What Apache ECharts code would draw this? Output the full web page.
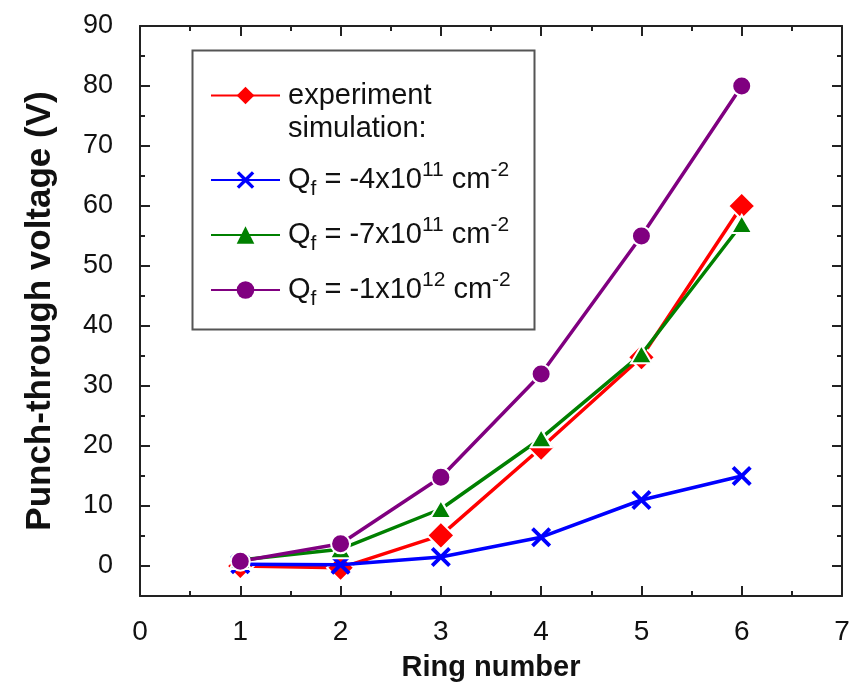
<!DOCTYPE html>
<html>
<head>
<meta charset="utf-8">
<script src="https://cdn.jsdelivr.net/npm/echarts@6/dist/echarts.min.js"></script>
<style>html,body{margin:0;padding:0;background:#fff}#c{width:851px;height:688px}</style>
</head>
<body>
<div id="c"></div>
<script>
const rings = [1, 2, 3, 4, 5, 6];
const experiment = [0, -0.3, 5.1, 19.7, 34.8, 60];
const qf4 = [0.3, 0.2, 1.5, 4.8, 11, 15];
const qf7 = [1.0, 2.8, 9.5, 21.3, 35.3, 57];
const qf12 = [0.8, 3.7, 14.8, 32, 55, 80];
const yMajor = [0, 10, 20, 30, 40, 50, 60, 70, 80, 90];
const yMinor = [5, 15, 25, 35, 45, 55, 65, 75, 85];
const seriesNames = ['experiment', 'Qf4', 'Qf7', 'Qf12'];
const legendLabels = {
  experiment: '{b|experiment}',
  Qf4: '{b|Q}{sub|f}{b| = -4x10}{sup|11}{b| cm}{sup|-2}',
  Qf7: '{b|Q}{sub|f}{b| = -7x10}{sup|11}{b| cm}{sup|-2}',
  Qf12: '{b|Q}{sub|f}{b| = -1x10}{sup|12}{b| cm}{sup|-2}'
};
const simulationLabel = 'simulation:';
const xTitle = 'Ring number';
const yTitle = 'Punch-through voltage (V)';

const FONT = '"Liberation Sans", Arial, sans-serif';
const pair = arr => rings.map((r, i) => [r, arr[i]]);
const X_PATH = 'path://M2.7,0 L10,7.3 L17.3,0 L20,2.7 L12.7,10 L20,17.3 L17.3,20 L10,12.7 L2.7,20 L0,17.3 L7.3,10 L0,2.7 Z';

const chart = echarts.init(document.getElementById('c'), null, {renderer: 'canvas'});

function mkSeries(name, data, color, symbol, size, z, bw) {
  return {
    name: name, type: 'line', data: pair(data), xAxisIndex: 0, yAxisIndex: 0,
    symbol: symbol, symbolSize: size, showSymbol: true, z: z,
    lineStyle: {color: color, width: 3.5},
    itemStyle: {color: color, borderColor: '#fff', borderWidth: bw},
    emphasis: {disabled: true}, animation: false
  };
}

const rich = {
  b: {fontSize: 29, fontFamily: FONT, color: '#111', lineHeight: 40, verticalAlign: 'middle'},
  sub: {fontSize: 21, fontFamily: FONT, color: '#111', lineHeight: 21, verticalAlign: 'bottom'},
  sup: {fontSize: 21, fontFamily: FONT, color: '#111', lineHeight: 21, verticalAlign: 'top'}
};

const rowCenters = [101, 180, 235, 290];
const legends = seriesNames.map((n, i) => ({
  data: [n], orient: 'vertical', left: 210, top: rowCenters[i] - 20, padding: 0,
  itemWidth: 69, itemHeight: 22, selectedMode: false,
  itemStyle: {borderWidth: 0},
  formatter: nm => legendLabels[nm],
  textStyle: {rich: rich, padding: [0, 0, 0, 3]}
}));

const hideLbl = {show: false};
function xAx(pos) {
  return {
    type: 'value', min: 0, max: 7, interval: 1, position: pos,
    axisLine: {show: true, onZero: false, lineStyle: {color: '#222', width: 2}},
    axisTick: {show: true, inside: true, length: 10, lineStyle: {color: '#222', width: 2}},
    minorTick: {show: true, splitNumber: 2, length: 5, lineStyle: {color: '#222', width: 2}},
    splitLine: {show: false}, minorSplitLine: {show: false},
    axisLabel: pos === 'bottom' ? {show: true, fontSize: 28, fontFamily: FONT, color: '#111', margin: 22} : hideLbl,
    name: pos === 'bottom' ? xTitle : '',
    nameLocation: 'middle', nameGap: 57,
    nameTextStyle: {fontSize: 29, fontWeight: 'bold', fontFamily: FONT, color: '#111'}
  };
}
function yAx(pos, major) {
  return {
    type: 'value', min: -5, max: 90, position: pos,
    axisLine: {show: major, onZero: false, lineStyle: {color: '#222', width: 2}},
    axisTick: {show: true, inside: true, length: major ? 10 : 5, customValues: major ? yMajor : yMinor,
      lineStyle: {color: '#222', width: 2}},
    splitLine: {show: false},
    axisLabel: (pos === 'left' && major) ? {show: true, customValues: yMajor, fontSize: 27, fontFamily: FONT, color: '#111', margin: 27} : hideLbl,
    name: (pos === 'left' && major) ? yTitle : '',
    nameLocation: 'middle', nameGap: 82, nameRotate: 90,
    nameTextStyle: {fontSize: 35, fontWeight: 'bold', fontFamily: FONT, color: '#111'}
  };
}

const option = {
  backgroundColor: '#fff',
  animation: false,
  grid: {left: 140, right: 9, top: 26, bottom: 92, containLabel: false, outerBoundsMode: 'none'},
  xAxis: [xAx('bottom'), xAx('top')],
  yAxis: [yAx('left', true), yAx('left', false), yAx('right', true), yAx('right', false)],
  legend: legends,
  graphic: [
    {type: 'rect', left: 190, top: 48, shape: {width: 342, height: 279},
     style: {fill: 'none', stroke: '#555', lineWidth: 2}, z: 100},
    {type: 'text', left: 288, top: 131 - 17, style: {text: simulationLabel, font: '29px ' + FONT, fill: '#111'}, z: 100}
  ],
  series: [
    mkSeries('experiment', experiment, '#ff0000', 'diamond', 27, 2, 2),
    mkSeries('Qf4', qf4, '#0000ff', X_PATH, 20, 3, 0),
    mkSeries('Qf7', qf7, '#008000', 'triangle', [21, 18], 4, 2),
    mkSeries('Qf12', qf12, '#800080', 'circle', 19, 5, 2)
  ]
};
chart.setOption(option);
</script>
</body>
</html>
